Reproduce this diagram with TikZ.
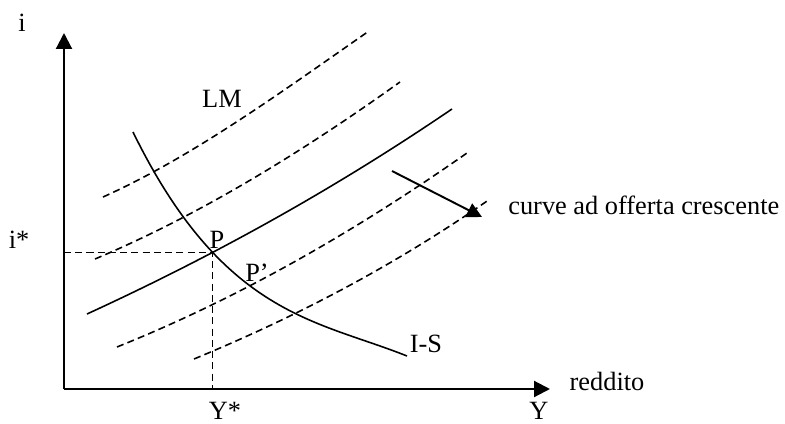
\documentclass[tikz,border=0pt]{standalone}
\usepackage{fontspec}
\setmainfont{Liberation Serif}
\usetikzlibrary{arrows.meta, intersections}

\begin{document}
\begin{tikzpicture}[
    x=0.02cm, y=-0.02cm,
    axis/.style={line width=1.2pt, -{Triangle[length=0.32cm, width=0.32cm]}},
    curvesolid/.style={line width=0.9pt},
    shifted/.style={line width=0.9pt, dash pattern=on 4pt off 2.4pt},
    guide/.style={line width=0.9pt, dash pattern=on 4pt off 2.4pt},
    shiftarrow/.style={line width=1.1pt, -{Triangle[length=0.3cm, width=0.3cm]}},
    lbl/.style={font=\fontsize{15}{18}\selectfont, inner sep=0pt}
]
    \useasboundingbox (0,0) rectangle (785,423);

    % assi
    \coordinate (o) at (64,389);
    \coordinate (itop) at (64,33);
    \coordinate (yend) at (550,389);
    \draw[axis] (o) -- (itop);
    \draw[axis] (o) -- (yend);

    % curve LM traslate
    \draw[shifted] (103,197) .. controls (192,157) and (280,93) .. (369,31);
    \draw[shifted] (95,259) .. controls (197,216) and (298,155) .. (400,82);
    \draw[shifted, name path=lmb] (117,347) .. controls (234,300) and (350,235) .. (467,153);
    \draw[shifted] (194,359) .. controls (293,318) and (391,268) .. (490,199);

    % LM e IS
    \draw[curvesolid, name path=lm] (87,314) .. controls (209,258) and (330,192) .. (452,109);
    \draw[curvesolid, name path=is] (133,132) .. controls (223,316) and (317,320) .. (407,356);

    % equilibrio
    \path[name intersections={of=lm and is, by=p}];
    \path[name intersections={of=lmb and is, by=pb}];
    \coordinate (iax) at (o |- p);
    \coordinate (yax) at (p |- o);
    \draw[guide] (iax) -- (p) -- (yax);

    % spostamento
    \coordinate (sfrom) at (392,171);
    \coordinate (sto) at (482,217);
    \draw[shiftarrow] (sfrom) -- (sto);

    \node[lbl] (ilab) at (22,23) {i};
    \node[lbl] (istar) at (19,240) {i*};
    \node[lbl] (ystar) at (225,411) {Y*};
    \node[lbl] (ylab) at (539,411) {Y};
    \node[lbl] (lmlab) at (222,99) {LM};
    \node[lbl] (plab) at (217,240) {P};
    \node[lbl] (pblab) at (257,273) {P'};
    \node[lbl] (islab) at (426,344) {I-S};
    \node[lbl] (redd) at (607,381) {reddito};
    \node[lbl, anchor=west] (offerta) at (508,205) {curve ad offerta crescente};
\end{tikzpicture}
\end{document}
